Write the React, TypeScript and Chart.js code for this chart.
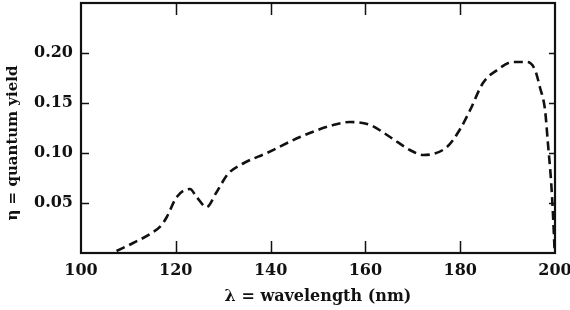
import React, { useEffect, useRef } from "react";
import { Chart, registerables } from "chart.js";

Chart.register(...registerables);

const wavelength = [107.5, 111.0, 114.9, 117.0, 118.1, 120.2, 123.0, 124.4, 126.5, 128.5, 131.0, 134.0, 139.2, 146.2, 153.2, 156.8, 161.0, 165.2, 169.4, 172.2, 177.2, 180.0, 182.1, 184.8, 187.8, 191.1, 194.1, 195.8, 196.8, 197.9, 198.5, 199.2, 199.6, 199.9];
const quantumYield = [0.002, 0.010, 0.020, 0.028, 0.036, 0.056, 0.064, 0.056, 0.046, 0.060, 0.079, 0.089, 0.100, 0.116, 0.128, 0.131, 0.128, 0.116, 0.103, 0.098, 0.106, 0.124, 0.143, 0.170, 0.183, 0.191, 0.191, 0.183, 0.166, 0.143, 0.110, 0.070, 0.036, 0.004];
const xTicks = [100, 120, 140, 160, 180, 200];
const yTicks = [0.05, 0.1, 0.15, 0.2];
const xTitle = "λ = wavelength (nm)";
const yTitle = "η = quantum yield";

const INK = "#111111";
const FONT = "'DejaVu Serif', serif";

const framePlugin = {
  id: "frame",
  afterDraw(chart: any) {
    const { ctx, chartArea } = chart;
    const { left, right, top, bottom } = chartArea;
    const xs = chart.scales.x;
    const ys = chart.scales.y;
    ctx.save();
    ctx.strokeStyle = INK;
    ctx.lineWidth = 2.2;
    ctx.strokeRect(left, top, right - left, bottom - top);
    ctx.lineWidth = 1.5;
    ctx.beginPath();
    xTicks.slice(1, -1).forEach((v) => {
      const px = Math.round(xs.getPixelForValue(v)) + 0.5;
      ctx.moveTo(px, bottom);
      ctx.lineTo(px, bottom - 12);
      ctx.moveTo(px, top);
      ctx.lineTo(px, top + 12);
    });
    yTicks.forEach((v) => {
      const py = Math.round(ys.getPixelForValue(v)) + 0.5;
      ctx.moveTo(left, py);
      ctx.lineTo(left + 8, py);
      ctx.moveTo(right, py);
      ctx.lineTo(right - 6, py);
    });
    ctx.stroke();
    // axis titles
    ctx.fillStyle = INK;
    ctx.textAlign = "center";
    ctx.textBaseline = "middle";
    ctx.font = `bold 16px ${FONT}`;
    ctx.fillText(xTitle, (left + right) / 2, 297);
    ctx.font = `bold 15px ${FONT}`;
    ctx.translate(13, 143);
    ctx.rotate(-Math.PI / 2);
    ctx.fillText(yTitle, 0, 0);
    ctx.restore();
  },
};

export default function App() {
  const ref = useRef<HTMLCanvasElement | null>(null);
  useEffect(() => {
    if (!ref.current) return;
    const chart = new Chart(ref.current, {
      type: "line",
      data: {
        datasets: [
          {
            data: wavelength.map((x, i) => ({ x, y: quantumYield[i] })),
            borderColor: INK,
            borderWidth: 2.6,
            borderDash: [9, 5],
            pointRadius: 0,
            fill: false,
            cubicInterpolationMode: "monotone",
          },
        ],
      },
      plugins: [framePlugin],
      options: {
        animation: false,
        responsive: false,
        maintainAspectRatio: false,
        layout: { padding: { top: 3, right: 15, left: 0, bottom: 0 } },
        plugins: { legend: { display: false }, tooltip: { enabled: false } },
        scales: {
          x: {
            type: "linear",
            min: 100,
            max: 200,
            grid: { display: false, drawTicks: false },
            border: { display: false },
            afterBuildTicks: (s: any) => {
              s.ticks = xTicks.map((v) => ({ value: v }));
            },
            afterFit: (s: any) => {
              s.height = 57;
              s.paddingLeft = 0;
              s.paddingRight = 0;
            },
            ticks: {
              color: INK,
              padding: 8,
              maxRotation: 0,
              autoSkip: false,
              font: { family: FONT, size: 16, weight: "bold" },
              callback: (v: any) => String(v),
            },
          },
          y: {
            type: "linear",
            min: 0,
            max: 0.25,
            grid: { display: false, drawTicks: false },
            border: { display: false },
            afterBuildTicks: (s: any) => {
              s.ticks = yTicks.map((v) => ({ value: v }));
            },
            afterFit: (s: any) => {
              s.width = 81;
              s.paddingTop = 0;
              s.paddingBottom = 0;
            },
            ticks: {
              color: INK,
              padding: 8,
              autoSkip: false,
              font: { family: FONT, size: 16, weight: "bold" },
              callback: (v: any) => Number(v).toFixed(2),
            },
          },
        },
      },
    } as any);
    return () => chart.destroy();
  }, []);
  return (
    <div style={{ position: "fixed", left: 0, top: 0, width: 570, height: 310, background: "#fff" }}>
      <canvas ref={ref} width={570} height={310} style={{ width: 570, height: 310, display: "block" }} />
    </div>
  );
}
